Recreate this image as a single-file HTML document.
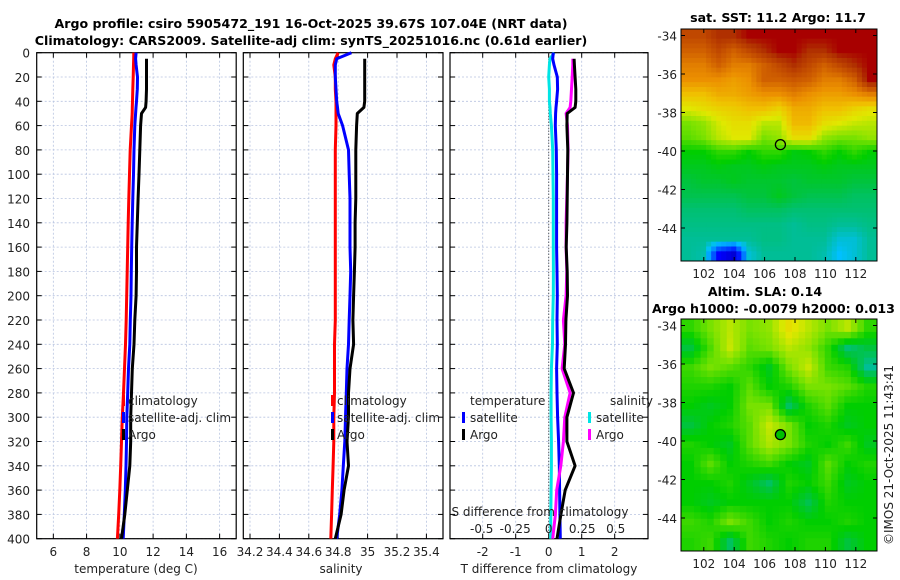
<!DOCTYPE html>
<html><head><meta charset="utf-8"><style>
html,body{margin:0;padding:0;background:#fff;}
svg{display:block;font-family:"DejaVu Sans","Liberation Sans",sans-serif;}
</style></head><body>
<svg id="c" width="900" height="580" viewBox="0 0 900 580" xmlns="http://www.w3.org/2000/svg"></svg>
<script>
const depths=[0,5,10,20,30,40,45,50,60,80,100,120,140,160,180,200,220,240,260,280,300,320,340,360,380,400];
const tempClim=[10.84,10.83,10.82,10.8,10.78,10.76,10.75,10.74,10.7,10.62,10.58,10.54,10.5,10.47,10.44,10.41,10.38,10.34,10.28,10.22,10.15,10.1,10.05,10.0,9.93,9.85];
const tempSat=[10.98,10.95,10.98,11.06,11.05,11.0,10.97,10.95,10.9,10.85,10.82,10.78,10.74,10.71,10.69,10.67,10.63,10.6,10.52,10.47,10.42,10.4,10.37,10.33,10.27,10.2];
const tempArgo=[null,11.6,11.6,11.6,11.6,11.58,11.55,11.3,11.25,11.2,11.15,11.1,11.05,11.0,11.0,10.98,10.9,10.85,10.75,10.7,10.65,10.65,10.6,10.45,10.3,10.1];
const salClim=[34.80,34.78,34.77,34.78,34.78,34.785,34.785,34.785,34.785,34.78,34.78,34.78,34.78,34.78,34.78,34.78,34.78,34.775,34.775,34.775,34.77,34.77,34.765,34.76,34.755,34.75];
const salSat=[34.89,34.79,34.78,34.78,34.785,34.79,34.795,34.80,34.83,34.87,34.875,34.88,34.88,34.88,34.885,34.88,34.875,34.87,34.86,34.855,34.85,34.845,34.835,34.825,34.81,34.79];
const salArgo=[null,34.98,34.98,34.98,34.98,34.98,34.975,34.93,34.925,34.92,34.92,34.92,34.915,34.915,34.91,34.905,34.9,34.905,34.88,34.87,34.87,34.86,34.87,34.84,34.82,34.78];
const dTSat=[0.14,0.12,0.16,0.26,0.27,0.24,0.22,0.21,0.2,0.23,0.24,0.24,0.24,0.24,0.25,0.26,0.25,0.26,0.24,0.25,0.27,0.3,0.32,0.33,0.34,0.35];
const dTArgo=[null,0.77,0.78,0.8,0.82,0.82,0.8,0.56,0.55,0.58,0.57,0.56,0.55,0.53,0.56,0.57,0.52,0.51,0.47,0.75,0.55,0.55,0.8,0.5,0.37,0.25];
const dSSat=[0.04,0.01,0.005,0.0,0.005,0.005,0.01,0.012,0.02,0.03,0.032,0.034,0.034,0.034,0.035,0.034,0.03,0.028,0.02,0.018,0.018,0.02,0.02,0.018,0.016,0.015];
const dSArgo=[null,0.18,0.18,0.175,0.17,0.165,0.16,0.13,0.14,0.145,0.14,0.135,0.13,0.13,0.135,0.13,0.11,0.12,0.1,0.16,0.12,0.11,0.09,0.06,0.05,0.03];
const depthTicks=[0,20,40,60,80,100,120,140,160,180,200,220,240,260,280,300,320,340,360,380,400];
const tempTicks=[6,8,10,12,14,16];
const salTicks=[34.2,34.4,34.6,34.8,35,35.2,35.4];
const salTickLabels=["34.2","34.4","34.6","34.8","35","35.2","35.4"];
const tdTicks=[-2,-1,0,1,2];
const sdTicks=[-0.5,-0.25,0,0.25,0.5];
const sdTickLabels=["-0.5","-0.25","0","0.25","0.5"];
const lonTicks=[102,104,106,108,110,112];
const latTicks=[-34,-36,-38,-40,-42,-44];
const argoLon=107.04, argoLat=-39.67;
const sstGrid=[
[0.85,0.85,0.9,0.9,0.95,0.95,0.95,0.95,0.95,0.95,0.95,0.95,0.95],
[0.8,0.8,0.85,0.8,0.85,0.9,0.95,0.95,0.9,0.9,0.95,0.95,0.95],
[0.75,0.75,0.8,0.75,0.75,0.8,0.85,0.9,0.85,0.8,0.85,0.9,0.95],
[0.72,0.72,0.72,0.7,0.72,0.8,0.8,0.82,0.8,0.75,0.75,0.8,0.95],
[0.65,0.65,0.68,0.68,0.7,0.72,0.72,0.75,0.72,0.7,0.7,0.72,0.75],
[0.58,0.6,0.62,0.63,0.65,0.65,0.62,0.68,0.68,0.65,0.65,0.62,0.6],
[0.5,0.52,0.57,0.6,0.6,0.55,0.55,0.66,0.66,0.6,0.58,0.56,0.55],
[0.48,0.5,0.55,0.58,0.58,0.5,0.52,0.6,0.6,0.52,0.5,0.5,0.52],
[0.42,0.42,0.45,0.45,0.42,0.45,0.45,0.41,0.42,0.45,0.42,0.45,0.42],
[0.4,0.4,0.41,0.4,0.4,0.41,0.4,0.4,0.4,0.41,0.4,0.4,0.4],
[0.38,0.39,0.39,0.4,0.39,0.39,0.39,0.38,0.39,0.39,0.39,0.38,0.38],
[0.37,0.37,0.37,0.37,0.38,0.38,0.4,0.38,0.37,0.37,0.37,0.36,0.36],
[0.35,0.35,0.35,0.35,0.36,0.36,0.36,0.35,0.35,0.35,0.35,0.35,0.35],
[0.34,0.34,0.34,0.34,0.34,0.34,0.34,0.33,0.34,0.34,0.33,0.33,0.34],
[0.33,0.33,0.33,0.33,0.33,0.34,0.34,0.33,0.33,0.33,0.3,0.3,0.33],
[0.33,0.32,0.15,0.1,0.3,0.33,0.33,0.33,0.33,0.32,0.28,0.3,0.33]];
const slaGrid=[
[0.45,0.5,0.55,0.5,0.52,0.6,0.55,0.5,0.55,0.45],
[0.38,0.47,0.56,0.48,0.5,0.55,0.52,0.45,0.35,0.38],
[0.46,0.5,0.48,0.45,0.4,0.5,0.56,0.46,0.44,0.33],
[0.44,0.44,0.42,0.48,0.42,0.44,0.5,0.5,0.48,0.44],
[0.42,0.4,0.42,0.5,0.5,0.36,0.44,0.48,0.42,0.42],
[0.38,0.42,0.44,0.48,0.56,0.5,0.42,0.44,0.4,0.42],
[0.44,0.42,0.4,0.48,0.54,0.5,0.44,0.42,0.46,0.4],
[0.42,0.48,0.42,0.44,0.46,0.42,0.4,0.48,0.42,0.44],
[0.42,0.42,0.44,0.4,0.36,0.44,0.42,0.46,0.4,0.42],
[0.42,0.4,0.42,0.42,0.42,0.42,0.37,0.44,0.42,0.42],
[0.46,0.44,0.5,0.46,0.42,0.44,0.42,0.42,0.44,0.42],
[0.44,0.46,0.36,0.46,0.44,0.42,0.44,0.44,0.38,0.42]];

const NS="http://www.w3.org/2000/svg";
const svg=document.getElementById('c');
function mk(tag,attrs,parent){const e=document.createElementNS(NS,tag);for(const k in attrs)e.setAttribute(k,attrs[k]);(parent||svg).appendChild(e);return e;}
function txt(x,y,s,opt,parent){const t=mk('text',Object.assign({x:x,y:y,'font-size':12,fill:'#222'},opt||{}),parent);t.textContent=s;return t;}

const Y0=52.7, YK=1.215;
function yD(d){return Y0+d*YK;}
const P1={x0:36.7,x1:236.2,f:t=>36.7+(t-5)*16.63};
const P2={x0:243.3,x1:443,f:s=>250+(s-34.2)*147};
const P3={x0:450,x1:648,f:v=>548.7+v*33,fs:v=>548.7+v*134};

function gridPanel(P,xt,name){
  const g=mk('g',{});
  
  
  mk('rect',{x:P.x0,y:Y0,width:P.x1-P.x0,height:486,fill:'#fff'},g);
  depthTicks.forEach(d=>{mk('line',{x1:P.x0,x2:P.x1,y1:yD(d),y2:yD(d),stroke:'#b8c4e0','stroke-width':0.8,'stroke-dasharray':'2,2'},g);
    mk('line',{x1:P.x0,x2:P.x0+5,y1:yD(d),y2:yD(d),stroke:'#000'},g);mk('line',{x1:P.x1-5,x2:P.x1,y1:yD(d),y2:yD(d),stroke:'#000'},g);});
  xt.forEach(x=>{mk('line',{x1:x,x2:x,y1:Y0,y2:Y0+486,stroke:'#b8c4e0','stroke-width':0.8,'stroke-dasharray':'2,2'},g);
    mk('line',{x1:x,x2:x,y1:Y0,y2:Y0+5,stroke:'#000'},g);mk('line',{x1:x,x2:x,y1:Y0+486-5,y2:Y0+486,stroke:'#000'},g);});
  mk('rect',{x:P.x0,y:Y0,width:P.x1-P.x0,height:486,fill:'none',stroke:'#000','stroke-width':1.2},g);
  return g;
}
function line(vals,fx,color,name,w){
  let pts=[];depths.forEach((d,i)=>{if(vals[i]!==null)pts.push(fx(vals[i]).toFixed(1)+','+yD(d).toFixed(1));});
  const p=mk('polyline',{points:pts.join(' '),fill:'none',stroke:color,'stroke-width':w||3,'stroke-linejoin':'round'});
  
  
  return p;
}
function legendBar(x,y,color){mk('rect',{x:x,y:y-9,width:3,height:11,fill:color});}

txt(311,28,'Argo profile: csiro 5905472_191 16-Oct-2025 39.67S 107.04E (NRT data)',{'text-anchor':'middle','font-weight':'bold','fill':'#000','font-size':12.6});
txt(311,45,'Climatology: CARS2009. Satellite-adj clim: synTS_20251016.nc (0.61d earlier)',{'text-anchor':'middle','font-weight':'bold','fill':'#000','font-size':12.6});

gridPanel(P1,tempTicks.map(P1.f),'temperature-panel');
depthTicks.forEach(d=>{const t=txt(30,yD(d)+5,String(d),{'text-anchor':'end'});});
tempTicks.forEach(t=>txt(P1.f(t),556,String(t),{'text-anchor':'middle'}));
txt(136,573,'temperature (deg C)',{'text-anchor':'middle'});
line(tempClim,P1.f,'#ff0000','temp-climatology-line');
line(tempSat,P1.f,'#0000ff','temp-satellite-line');
line(tempArgo,P1.f,'#000','temp-argo-line');
[['#ff0000','climatology'],['#0000ff','satellite-adj. clim'],['#000','Argo']].forEach((e,i)=>{legendBar(122,404+i*17,e[0]);txt(128,405+i*17,e[1]);});

gridPanel(P2,salTicks.map(P2.f),'salinity-panel');
salTicks.forEach((s,i)=>txt(P2.f(s),556,salTickLabels[i],{'text-anchor':'middle'}));
txt(341,573,'salinity',{'text-anchor':'middle'});
line(salClim,P2.f,'#ff0000','sal-climatology-line');
line(salSat,P2.f,'#0000ff','sal-satellite-line');
line(salArgo,P2.f,'#000','sal-argo-line');
[['#ff0000','climatology'],['#0000ff','satellite-adj. clim'],['#000','Argo']].forEach((e,i)=>{legendBar(331,404+i*17,e[0]);txt(337,405+i*17,e[1]);});

gridPanel(P3,tdTicks.map(P3.f),'difference-panel');
mk('line',{x1:P3.f(0),x2:P3.f(0),y1:Y0,y2:Y0+486,stroke:'#333','stroke-width':1,'stroke-dasharray':'1,2'});
tdTicks.forEach(t=>txt(P3.f(t),556,String(t),{'text-anchor':'middle'}));
txt(549,573,'T difference from climatology',{'text-anchor':'middle'});
line(dSSat,P3.fs,'#00e5e5','s-diff-satellite-line');
line(dTSat,P3.f,'#0000ff','t-diff-satellite-line');
line(dSArgo,P3.fs,'#ff00ff','s-diff-argo-line');
line(dTArgo,P3.f,'#000','t-diff-argo-line');
txt(470,405,'temperature');txt(610,405,'salinity');
legendBar(462,421,'#0000ff');txt(470,422,'satellite');
legendBar(462,438,'#000');txt(470,439,'Argo');
legendBar(588,421,'#00e5e5');txt(596,422,'satellite');
legendBar(588,438,'#ff00ff');txt(596,439,'Argo');
txt(540,516,'S difference from climatology',{'text-anchor':'middle'});
sdTicks.forEach((s,i)=>txt(P3.fs(s),533,sdTickLabels[i],{'text-anchor':'middle'}));

const stops=[[0,[0,0,128]],[0.15,[0,0,255]],[0.28,[0,192,255]],[0.33,[0,190,150]],[0.38,[0,196,60]],[0.42,[0,206,0]],[0.5,[120,226,0]],[0.58,[224,232,0]],[0.65,[240,192,0]],[0.72,[236,144,0]],[0.8,[208,96,0]],[0.9,[176,48,0]],[0.95,[168,0,0]],[1,[160,0,0]]];
function cmap(v){for(let i=1;i<stops.length;i++){if(v<=stops[i][0]){const a=stops[i-1],b=stops[i],t=(v-a[0])/(b[0]-a[0]);const c=a[1].map((x,k)=>Math.round(x+(b[1][k]-x)*t));return 'rgb('+c.join(',')+')';}}return 'rgb(160,0,0)';}

const MX0=681,MX1=877,LON0=100.5,LONK=15.2;
function lonX(l){return MX0+(l-LON0)*LONK;}
function sample(grid,fr,fc){
  const R=grid.length,C=grid[0].length;
  const r=Math.min(Math.max(fr-0.5,0),R-1),c=Math.min(Math.max(fc-0.5,0),C-1);
  const r0=Math.floor(r),c0=Math.floor(c),r1=Math.min(r0+1,R-1),c1=Math.min(c0+1,C-1),tr=r-r0,tc=c-c0;
  return grid[r0][c0]*(1-tr)*(1-tc)+grid[r0][c1]*(1-tr)*tc+grid[r1][c0]*tr*(1-tc)+grid[r1][c1]*tr*tc;
}
function drawMap(grid,top,latAt40,name,markerFill){
  const g=mk('g',{});
  
  
  const H=232,W=MX1-MX0,rows=grid.length,cols=grid[0].length,S=3;
  const cw=W/(cols*S),ch=H/(rows*S);
  for(let r=0;r<rows*S;r++)for(let c=0;c<cols*S;c++){
    const v=sample(grid,(r+0.5)/S,(c+0.5)/S);
    const cell=mk('rect',{x:(MX0+c*cw).toFixed(2),y:(top+r*ch).toFixed(2),width:(cw+0.5).toFixed(2),height:(ch+0.5).toFixed(2),fill:cmap(v)},g);
    
  }
  const latY=l=>latAt40+(-40-l)*19.25;
  mk('rect',{x:MX0,y:top,width:W,height:H,fill:'none',stroke:'#000','stroke-width':1},g);
  lonTicks.forEach(l=>{const x=lonX(l);mk('line',{x1:x,x2:x,y1:top+H-4,y2:top+H,stroke:'#000'},g);mk('line',{x1:x,x2:x,y1:top,y2:top+4,stroke:'#000'},g);txt(x,top+H+17,String(l),{'text-anchor':'middle'},g);});
  latTicks.forEach(l=>{const y=latY(l);mk('line',{x1:MX0,x2:MX0+4,y1:y,y2:y,stroke:'#000'},g);mk('line',{x1:MX1-4,x2:MX1,y1:y,y2:y,stroke:'#000'},g);txt(MX0-4,y+5,String(l),{'text-anchor':'end'},g);});
  const m=mk('circle',{cx:lonX(argoLon),cy:latY(argoLat),r:5,fill:markerFill,stroke:'#000','stroke-width':1.3},g);
  
  
  return g;
}
drawMap(sstGrid,29,151,'sst-map','none');
drawMap(slaGrid,319,441,'sla-map','#00c000');
txt(778,22,'sat. SST: 11.2 Argo: 11.7',{'text-anchor':'middle','font-weight':'bold','fill':'#000','font-size':12.6});
txt(765,296,'Altim. SLA: 0.14',{'text-anchor':'middle','font-weight':'bold','fill':'#000','font-size':12.6});
txt(652,313,'Argo h1000: -0.0079 h2000: 0.013',{'font-weight':'bold','fill':'#000','font-size':12.6});
const cp=txt(0,0,'©IMOS 21-Oct-2025 11:43:41',{transform:'translate(893,545) rotate(-90)'});

</script>
</body></html>
